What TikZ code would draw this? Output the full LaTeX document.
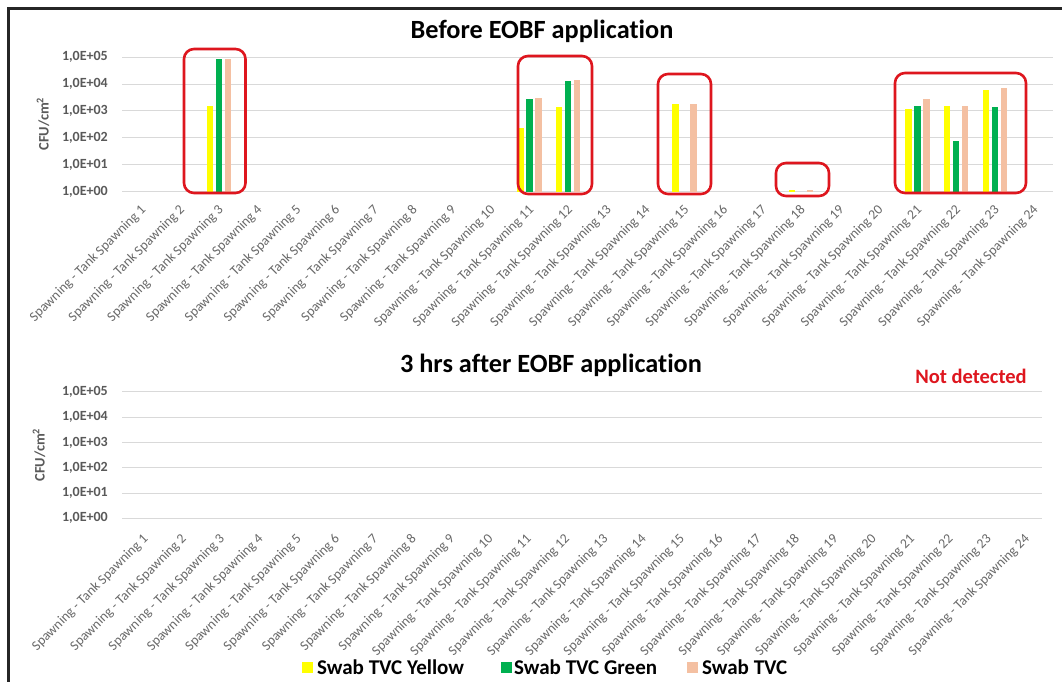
\documentclass[tikz,border=0pt]{standalone}
\usepackage{fontspec}
\setmainfont{Carlito}[Ligatures=NoCommon]
\definecolor{cY}{RGB}{255,255,0}
\definecolor{cG}{RGB}{0,176,80}
\definecolor{cP}{RGB}{244,192,162}
\definecolor{cR}{RGB}{222,22,30}
\definecolor{gridc}{RGB}{217,217,217}
\definecolor{axtxt}{RGB}{89,89,89}
\definecolor{lbltxt}{RGB}{105,105,105}
\begin{document}
\begin{tikzpicture}[x=1pt,y=-1pt,
  gridline/.style={draw=gridc,line width=1pt},
  ticklbl/.style={anchor=east,inner sep=0pt,text=axtxt,font=\fontsize{14}{16}\selectfont\bfseries},
  axtitle/.style={rotate=90,inner sep=0pt,text=axtxt,font=\fontsize{14.5}{16}\selectfont\bfseries},
  xlbl/.style={rotate=45,anchor=east,inner sep=0pt,text=lbltxt,font=\fontsize{13.8}{16}\selectfont},
  charttitle/.style={inner sep=0pt,font=\fontsize{26.3}{30}\selectfont\bfseries},
  redbox/.style={draw=cR,line width=2.6pt,rounded corners=10pt},
  legtxt/.style={anchor=west,inner sep=0pt,font=\fontsize{21}{24}\selectfont\bfseries},
  legsq/.style={minimum width=11pt,minimum height=11pt,inner sep=0pt,anchor=center}
]
\useasboundingbox (0,0) rectangle (1062,682);
\fill[white] (0,0) rectangle (1062,682);
% frame
\draw[line width=2.6pt,black!85] (8.5,682) -- (8.5,8.5) -- (1062,8.5);

% ---------- top chart ----------
\node[charttitle] (t1) at (542,31) {Before EOBF application};
\foreach \k in {0,...,5}{
  \draw[gridline] (122,{191.7-26.9*\k}) -- (1053,{191.7-26.9*\k});
  \node[ticklbl] (ta\k) at (108,{191.7-26.9*\k}) {1,0E+0\k};
}
\node[axtitle] (ya1) at (43,124) {CFU/cm\textsuperscript{2}};
% bars: tank / offset / log10 value / colour
\foreach \i/\o/\v/\col in {
  3/-9/3.17/cY, 3/0/4.93/cG, 3/9/4.93/cP,
  11/-9/2.38/cY, 11/0/3.45/cG, 11/9/3.48/cP,
  12/-9/3.15/cY, 12/0/4.10/cG, 12/9/4.16/cP,
  15/-9/3.26/cY, 15/9/3.26/cP,
  18/-9/0.06/cY, 18/9/0.06/cP,
  21/-9/3.07/cY, 21/0/3.20/cG, 21/9/3.45/cP,
  22/-9/3.17/cY, 22/0/1.90/cG, 22/9/3.20/cP,
  23/-9/3.77/cY, 23/0/3.16/cG, 23/9/3.86/cP}{
  \fill[\col] ({122+(\i-0.5)*38.8+\o-3.25},191.7) rectangle ++(6.5,{-26.9*\v});
}
\foreach \i in {1,...,24}{
  \node[xlbl] (xa\i) at ({122+(\i-0.5)*38.8+2.5},208) {Spawning - Tank Spawning \i};
}
% red highlight boxes
\draw[redbox] (184,49) rectangle (245.5,193);
\draw[redbox] (518,56) rectangle (592,194);
\draw[redbox] (658,74) rectangle (711,194);
\draw[redbox] (776,163) rectangle (829,196);
\draw[redbox] (895,73) rectangle (1026,193);

% ---------- bottom chart ----------
\node[charttitle] (t2) at (551,365) {3 hrs after EOBF application};
\node[inner sep=0pt,text=cR,font=\fontsize{20.5}{24}\selectfont\bfseries] (nd) at (971,376) {Not detected};
\foreach \k in {0,...,5}{
  \draw[gridline] (122,{518.3-25.3*\k}) -- (1042,{518.3-25.3*\k});
  \node[ticklbl] (tb\k) at (108,{518.3-25.3*\k}) {1,0E+0\k};
}
\node[axtitle] (ya2) at (39,455) {CFU/cm\textsuperscript{2}};
\foreach \i in {1,...,24}{
  \node[xlbl] (xb\i) at ({122+(\i-0.5)*38.33+5},537) {Spawning - Tank Spawning \i};
}

% ---------- legend ----------
\node[legsq,fill=cY] (lq1) at (307.5,667) {};
\node[legtxt] (lt1) at (317,667) {Swab TVC Yellow};
\node[legsq,fill=cG] (lq2) at (506.5,667) {};
\node[legtxt] (lt2) at (514,667) {Swab TVC Green};
\node[legsq,fill=cP] (lq3) at (692.5,667) {};
\node[legtxt] (lt3) at (702,667) {Swab TVC};
\end{tikzpicture}
\end{document}
